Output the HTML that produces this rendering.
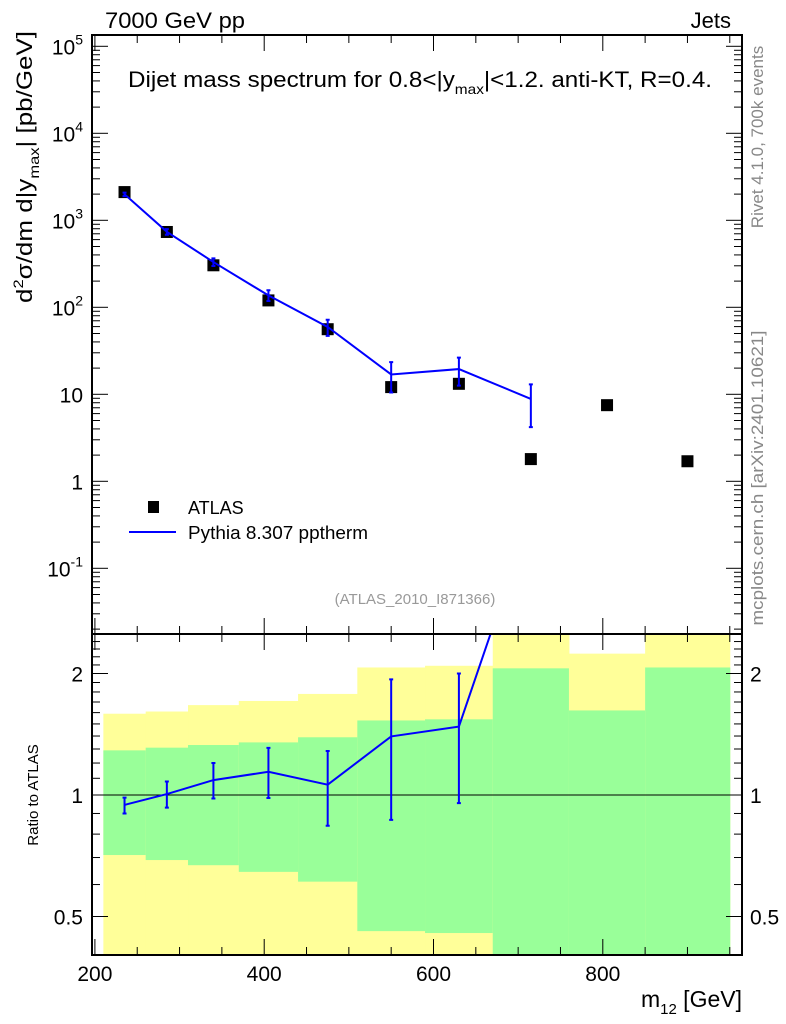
<!DOCTYPE html>
<html><head><meta charset="utf-8">
<style>
body{margin:0;background:#fff;}
svg{display:block;font-family:"Liberation Sans",sans-serif;}
</style></head>
<body>
<svg id="chart" width="786" height="1024" viewBox="0 0 786 1024">
<g id="ratio-bands"></g>
<g id="marks"></g>
<g id="axes"></g>
<text x="105" y="28" font-size="22" textLength="140" lengthAdjust="spacingAndGlyphs">7000 GeV pp</text>
<text x="731" y="28" font-size="22" text-anchor="end">Jets</text>
<text x="128" y="87" font-size="22" textLength="584" lengthAdjust="spacingAndGlyphs">Dijet mass spectrum for 0.8&lt;|y<tspan font-size="14" dy="7">max</tspan><tspan dy="-7">|&lt;1.2.  anti-KT, R=0.4.</tspan></text>
<text transform="translate(32,167) rotate(-90)" font-size="22" text-anchor="middle" textLength="272" lengthAdjust="spacingAndGlyphs">d<tspan font-size="14" dy="-9">2</tspan><tspan dy="9">σ/dm d|y</tspan><tspan font-size="14" dy="7">max</tspan><tspan dy="-7">| [pb/GeV]</tspan></text>
<text transform="translate(38,795) rotate(-90)" font-size="15" text-anchor="middle">Ratio to ATLAS</text>
<text x="742" y="1007" font-size="23" text-anchor="end">m<tspan font-size="15" dy="7">12</tspan><tspan dy="-7"> [GeV]</tspan></text>
<text transform="translate(763,137) rotate(-90)" font-size="17" fill="#888" text-anchor="middle">Rivet 4.1.0,  700k events</text>
<text transform="translate(763,478) rotate(-90)" font-size="17" fill="#888" text-anchor="middle" textLength="295" lengthAdjust="spacingAndGlyphs">mcplots.cern.ch [arXiv:2401.10621]</text>
<text x="415" y="604" font-size="15" fill="#999" text-anchor="middle">(ATLAS_2010_I871366)</text>
<rect x="148" y="501" width="11" height="12" fill="#000"/>
<text x="188" y="514" font-size="18">ATLAS</text>
<line x1="129" y1="532" x2="176" y2="532" stroke="#0000ff" stroke-width="2"/>
<text x="188" y="539" font-size="18" textLength="180" lengthAdjust="spacingAndGlyphs">Pythia 8.307 pptherm</text>
</svg>
<script>
const binEdges=[210,260,310,370,440,510,590,670,760,850,950];
const xCenters=[235,285,340,405,475,550,630,715,805,900];
const dataVals=[2110,734,304,120,56,12.1,13.2,1.8,7.5,1.7];
const mcVals=[1994,738,331,137,59.4,16.9,19.5,8.85];
const mcLo=[1899,683,298,118,47,10.5,12.6,4.2];
const mcHi=[2078,793,365,157,72,23.4,26.4,13];
const bandYellowHi=[1.59,1.61,1.67,1.71,1.78,2.07,2.09,3,2.24,3];
const bandGreenHi=[1.29,1.31,1.33,1.35,1.39,1.53,1.54,2.06,1.62,2.07];
const bandGreenLo=[0.71,0.69,0.67,0.645,0.61,0.46,0.455,0.3,0.3,0.3];
const bandYellowLo=[0.3,0.3,0.3,0.3,0.3,0.3,0.3,0.3,0.3,0.3];
const mainYTicks=["10^5","10^4","10^3","10^2","10","1","10^-1"];
const ratioYTicks=[0.5,1,2];
const xTicks=[200,400,600,800];

const NS="http://www.w3.org/2000/svg";
const L=92,R=742,T=35,MB=634,RB=955;
const X=m=>94.9+(m-200)*0.8465;
const Y=v=>481.3-87*Math.log10(v);
const YR=r=>795-121.5*Math.log2(r);
const RMAX=Math.pow(2,(795-MB)/121.5);
function mk(tag,attrs,parent){const e=document.createElementNS(NS,tag);for(const k in attrs)e.setAttribute(k,attrs[k]);parent.appendChild(e);return e;}
const bands=document.getElementById('ratio-bands'),marks=document.getElementById('marks'),axes=document.getElementById('axes');
const clamp=(y,a,b)=>Math.max(a,Math.min(b,y));
for(let i=0;i<binEdges.length-1;i++){
  const x0=X(binEdges[i]),x1=X(binEdges[i+1]);
  let e=mk('rect',{x:x0,y:clamp(YR(bandYellowHi[i]),MB,RB),width:x1-x0+0.5,height:clamp(YR(bandYellowLo[i]),MB,RB)-clamp(YR(bandYellowHi[i]),MB,RB),fill:'#ffff99'},bands);
  
  
  e=mk('rect',{x:x0,y:clamp(YR(bandGreenHi[i]),MB,RB),width:x1-x0+0.5,height:clamp(YR(bandGreenLo[i]),MB,RB)-clamp(YR(bandGreenHi[i]),MB,RB),fill:'#99ff99'},bands);
  
  
}
for(let i=0;i<dataVals.length;i++){
  const e=mk('rect',{x:X(xCenters[i])-6,y:Y(dataVals[i])-6,width:12,height:12,fill:'#000'},marks);
  
  
}
let pts=mcVals.map((v,i)=>X(xCenters[i])+','+Y(v)).join(' ');
let ml=mk('polyline',{points:pts,fill:'none',stroke:'#0000ff','stroke-width':2},marks);


for(let i=0;i<mcVals.length;i++){
  const x=X(xCenters[i]);
  const e=mk('path',{d:`M${x},${Y(mcLo[i])}V${Y(mcHi[i])}M${x-2},${Y(mcLo[i])}h4M${x-2},${Y(mcHi[i])}h4`,stroke:'#0000ff','stroke-width':2,fill:'none'},marks);
  
  
}
const cp=mk('clipPath',{id:'rc'},marks);mk('rect',{x:L,y:MB,width:R-L,height:RB-MB},cp);
const rg=mk('g',{'clip-path':'url(#rc)'},marks);
mk('line',{x1:L,x2:R,y1:YR(1),y2:YR(1),stroke:'#000','stroke-width':1},rg);
pts=mcVals.map((v,i)=>X(xCenters[i])+','+YR(v/dataVals[i])).join(' ');
ml=mk('polyline',{points:pts,fill:'none',stroke:'#0000ff','stroke-width':2},rg);


for(let i=0;i<mcVals.length;i++){
  if(mcVals[i]/dataVals[i]>RMAX)continue;
  const x=X(xCenters[i]),a=YR(mcLo[i]/dataVals[i]),b=YR(mcHi[i]/dataVals[i]);
  const e=mk('path',{d:`M${x},${a}V${b}M${x-2},${a}h4M${x-2},${b}h4`,stroke:'#0000ff','stroke-width':2,fill:'none'},rg);
  
  
}
mk('rect',{x:L,y:T,width:R-L,height:MB-T,fill:'none',stroke:'#000','stroke-width':2},axes);
mk('rect',{x:L,y:MB,width:R-L,height:RB-MB,fill:'none',stroke:'#000','stroke-width':2},axes);
for(let m=200;m<=950;m+=50){
  const x=X(m),big=m%200==0,h=big?16:8;
  for(const [y,d] of [[T,1],[MB,-1],[MB,1],[RB,-1]]) mk('line',{x1:x,x2:x,y1:y,y2:y+d*h,stroke:'#000','stroke-width':1},axes);
}
xTicks.forEach(m=>{const e=mk('text',{x:X(m),y:981,'font-size':21,'text-anchor':'middle'},axes);e.textContent=m;

});
for(let d=-2;d<=5;d++){
  for(let k=1;k<10;k++){const v=k*Math.pow(10,d),y=Y(v);if(y<T||y>MB)continue;const h=k==1?16:8;
    mk('line',{x1:L,x2:L+h,y1:y,y2:y,stroke:'#000'},axes);mk('line',{x1:R,x2:R-h,y1:y,y2:y,stroke:'#000'},axes);}
}
mainYTicks.forEach((t,i)=>{
  const v=5-i,y=Y(Math.pow(10,v));
  const e=mk('text',{x:83,y:y+8,'font-size':21,'text-anchor':'end'},axes);
  
  
  if(t.includes('^')){const [b,p]=t.split('^');e.textContent=b;const s=mk('tspan',{'font-size':14,dy:-10},e);s.textContent=p;}
  else e.textContent=t;
});
for(let r=0.4;r<=2.51;r+=0.1){const y=YR(r);if(y<MB||y>RB)continue;const big=[0.5,1,2].some(v=>Math.abs(v-r)<1e-6);const h=big?16:8;
  mk('line',{x1:L,x2:L+h,y1:y,y2:y,stroke:'#000'},axes);mk('line',{x1:R,x2:R-h,y1:y,y2:y,stroke:'#000'},axes);}
ratioYTicks.forEach(r=>{
  const y=YR(r);
  let e=mk('text',{x:83,y:y+8,'font-size':21,'text-anchor':'end'},axes);e.textContent=r;
  
  
  e=mk('text',{x:750,y:y+8,'font-size':21},axes);e.textContent=r;
  
  
});
</script>
</body></html>
